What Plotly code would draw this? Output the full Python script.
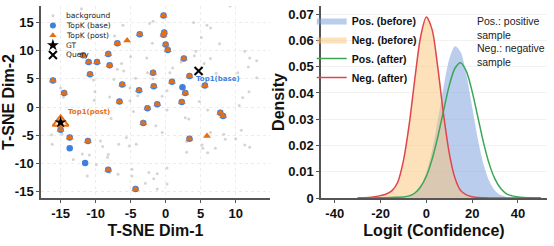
import plotly.graph_objects as go

# ---------------- Left panel: t-SNE scatter ----------------
bg_x = [-12.0, -6.1, -2.3, -1.8, 4.0, 5.9, 6.4, 9.2, -7.3, -1.9, 5.1, 7.7, 4.3, 4.1, 6.4,
        11.3, 12.0, 13.0, 11.8, 10.3, 13.0, -5.0, -2.7, -6.3, 1.0, 5.5, 7.2, 2.2,
        -6.9, -6.0, -2.6, -4.3, -1.8, 0.6, -10.3, -7.4, -5.1, 0.2, -15.0, -14.6, -10.1,
        -10.2, -8.0, -5.1, -4.0, -0.5, 4.8, 11.9, 11.0, 10.5, 6.0, -4.6, 0.2, 2.8, 3.3,
        -1.4, -0.5, -7.8,
        -16.3, -16.2, -14.8, -13.2, -11.9, -10.9, -11.2, -9.9, -9.3, -9.0, -8.2, -8.3,
        -6.7, -5.6, -5.2, -4.2, -6.8, -8.0, -4.8, -4.8, -2.9, -2.4, -1.2, -1.7, -1.2,
        0.2, 0.2, 3.0, 3.0, 5.2, 5.3, 6.0, 6.4, 7.1, 8.3, 8.5, 10.0, 10.8, 11.3, 12.0]
bg_y = [17.4, 14.5, 14.8, 15.2, 15.0, 14.5, 14.0, 17.9, 12.6, 11.3, 12.3, 11.2, 9.9, 9.1, 8.6,
        9.9, 8.7, 8.2, 7.1, 6.1, 5.2, 8.9, 8.7, 7.7, 6.9, 7.7, 6.0, 8.0,
        6.7, 6.4, 6.1, 5.1, 5.0, 6.1, 4.8, 4.9, 3.4, 2.9, 3.4, 1.8, 2.7,
        1.2, 1.8, 1.1, 2.0, 1.9, 1.0, 2.7, 1.7, 0.3, -0.5, -0.8, -0.5, -1.9, -2.1,
        -3.3, -4.5, -2.0,
        -4.9, -6.6, -4.8, -9.3, -8.3, -8.5, -12.2, -10.2, -6.0, -7.0, -8.4, -8.9,
        -6.6, -5.4, -6.9, -6.6, -11.9, -11.6, -11.0, -12.2, -13.5, -11.6, -11.8, -12.7, -14.5,
        -13.6, -10.8, -8.0, -6.1, -6.7, -7.3, -8.1, -4.5, -7.3, -4.8, -5.7, -5.6, -4.1, -6.7, -7.1]

topk_base_x = [-0.3, -0.2, -0.3, -3.7, -6.9, 0.0, 0.3, -8.2, -11.8, -11.0, -9.8, -8.0, 2.6,
               -10.8, -1.8, -16.1, 0.9, -6.2, -1.7, 5.6, -3.8, 2.8, -14.5, -6.6, -1.2, 2.3,
               -2.6, 7.8, 8.2, -3.2, -15.0, -13.7, -11.1, -8.2, -4.3, 3.4, 3.4,
               2.4, -13.7, -11.5]
topk_base_y = [16.2, 13.2, 12.8, 12.9, 11.3, 11.1, 10.1, 9.4, 9.2, 8.0, 8.0, 7.4, 8.6,
               5.8, 6.1, 4.7, 4.5, 4.0, 3.7, 3.8, 3.0, 2.5, 2.5, 1.0, 0.5, 0.9,
               -0.2, -1.0, -1.6, -2.8, -4.0, -5.4, -6.0, -11.1, -14.5, -5.6, 5.5,
               3.5, -7.3, -9.9]
topk_post_x = [-0.3, -0.2, -0.3, -3.7, -6.9, 0.0, 0.3, -8.2, -11.8, -11.0, -9.8, -8.0, 2.6,
               -10.8, -1.8, -16.1, 0.9, -6.2, -1.7, 5.6, -3.8, 2.8, -14.5, -6.6, -1.2, 2.3,
               -2.6, 7.8, 8.2, -3.2, -15.0, -13.7, -11.1, -8.2, -4.3, 3.4, 3.4,
               -5.5, 5.9, -15.0]
topk_post_y = [16.2, 13.2, 12.8, 12.9, 11.3, 11.1, 10.1, 9.4, 9.2, 8.0, 8.0, 7.4, 8.6,
               5.8, 6.1, 4.7, 4.5, 4.0, 3.7, 3.8, 3.0, 2.5, 2.5, 1.0, 0.5, 0.9,
               -0.2, -1.0, -1.6, -2.8, -4.0, -5.4, -6.0, -11.1, -14.5, -5.6, 5.5,
               11.8, -5.1, -2.7]
gt_x, gt_y = [-15.0], [-2.7]
query_x, query_y = [4.7], [6.4]
top1_base_x, top1_base_y = [3.4], [5.5]
top1_post_x, top1_post_y = [-15.0], [-2.7]
left_legend_labels = ["background", "TopK (base)", "TopK (post)", "GT", "Query"]

tsne_x_ticks = [-15, -10, -5, 0, 5, 10]
tsne_x_text = ["-15", "-10", "-5", "0", "5", "10"]
tsne_y_ticks = [-15, -10, -5, 0, 5, 10, 15]
tsne_y_text = ["-15", "-10", "-5", "0", "5", "10", "15"]

# ---------------- Right panel: logit densities ----------------
logit_x = [-30, -27.5, -25, -22.5, -20, -17.5, -15, -12.5, -10, -7.5, -5, -2.5, 0, 2.5, 5, 7.5,
           10, 12.5, 15, 17.5, 20, 22.5, 25, 27.5, 30, 32.5, 35, 37.5, 40, 42.5, 45, 47.5, 50]
pos_before = [0, 0, 0, 0, 0, 0, 0, 0.0001, 0.0002, 0.0008, 0.0019, 0.0047, 0.0098, 0.0182,
              0.0296, 0.0422, 0.0528, 0.0578, 0.0556, 0.0469, 0.0347, 0.0225, 0.0128, 0.0064,
              0.0028, 0.0011, 0.0004, 0.0001, 0, 0, 0, 0, 0]
neg_before = [0, 0.0001, 0.0002, 0.0005, 0.0009, 0.0015, 0.0028, 0.0060, 0.0142, 0.0279,
              0.0455, 0.0614, 0.0689, 0.0642, 0.0497, 0.0319, 0.0171, 0.0076, 0.0028, 0.0012,
              0.0005, 0.0002, 0.0001, 0, 0, 0, 0, 0, 0, 0, 0, 0, 0]
pos_after = [0, 0, 0, 0, 0.0001, 0.0001, 0.0002, 0.0003, 0.0004, 0.0008, 0.0019, 0.0043,
             0.0083, 0.0147, 0.0233, 0.0332, 0.0428, 0.0494, 0.0515, 0.0482, 0.0406, 0.0308,
             0.0210, 0.0129, 0.0072, 0.0036, 0.0016, 0.0008, 0.0004, 0.0002, 0.0001, 0, 0]
neg_after = [0, 0.0001, 0.0002, 0.0005, 0.0009, 0.0015, 0.0028, 0.0060, 0.0142, 0.0279,
             0.0455, 0.0614, 0.0689, 0.0642, 0.0497, 0.0319, 0.0171, 0.0076, 0.0028, 0.0012,
             0.0005, 0.0002, 0.0001, 0, 0, 0, 0, 0, 0, 0, 0, 0, 0]
logit_ticks = [-40, -20, 0, 20, 40]
logit_text = ["-40", "-20", "0", "20", "40"]
density_ticks = [0, 0.01, 0.02, 0.03, 0.04, 0.05, 0.06, 0.07]
density_text = ["0", "0.01", "0.02", "0.03", "0.04", "0.05", "0.06", "0.07"]
note_lines = ["Pos.: positive", "sample", "Neg.: negative", "sample"]

BLUE = "#3f7fe2"
ORANGE = "#e56f12"
GRAY = "rgba(185,185,185,0.6)"
AX = "#555555"
BOLD = dict(family="Liberation Sans", size=13, color="#111111", weight="bold")
TITLE = dict(family="Liberation Sans", size=16, color="#111111", weight="bold")

fig = go.Figure()

# left scatter
fig.add_trace(go.Scatter(x=bg_x, y=bg_y, mode="markers", xaxis="x", yaxis="y",
                         marker=dict(size=3, color=GRAY), showlegend=False))
fig.add_trace(go.Scatter(x=topk_base_x, y=topk_base_y, mode="markers", xaxis="x", yaxis="y",
                         marker=dict(size=6.5, color=BLUE, symbol="circle"), showlegend=False))
fig.add_trace(go.Scatter(x=topk_post_x, y=topk_post_y, mode="markers", xaxis="x", yaxis="y",
                         marker=dict(size=7, color=ORANGE, symbol="triangle-up"), showlegend=False))
fig.add_trace(go.Scatter(x=top1_post_x, y=top1_post_y, mode="markers", xaxis="x", yaxis="y",
                         marker=dict(size=14, color="rgba(255,240,225,1)", symbol="triangle-up",
                                     line=dict(color=ORANGE, width=2)), showlegend=False))
fig.add_trace(go.Scatter(x=gt_x, y=gt_y, mode="markers", xaxis="x", yaxis="y",
                         marker=dict(size=9, color="black", symbol="star"), showlegend=False))
fig.add_trace(go.Scatter(x=top1_base_x, y=top1_base_y, mode="markers", xaxis="x", yaxis="y",
                         marker=dict(size=12, color="rgba(0,0,0,0)", symbol="circle-open",
                                     line=dict(color=BLUE, width=1.8)), showlegend=False))
fig.add_trace(go.Scatter(x=query_x, y=query_y, mode="markers", xaxis="x", yaxis="y",
                         marker=dict(size=8, symbol="x-thin", line=dict(color="black", width=2)),
                         showlegend=False))

# manual compact legend for left panel (axis-fraction overlay)
leg_styles = [
    dict(size=3, color=GRAY, symbol="circle"),
    dict(size=6, color=BLUE, symbol="circle"),
    dict(size=6.5, color=ORANGE, symbol="triangle-up"),
    dict(size=9, color="black", symbol="star"),
    dict(size=8, symbol="x-thin", line=dict(color="black", width=2)),
]
for i, (lab, st) in enumerate(zip(left_legend_labels, leg_styles)):
    yy = 0.949 - i * 0.051
    fig.add_trace(go.Scatter(x=[0.052], y=[yy], mode="markers", xaxis="x3", yaxis="y3",
                             marker=st, showlegend=False, hoverinfo="skip"))
    fig.add_annotation(x=0.102, y=yy, xref="x3", yref="y3", text=lab, showarrow=False,
                       xanchor="left", yanchor="middle",
                       font=dict(family="DejaVu Sans", size=7.5, color="#222222"))

fig.add_annotation(x=top1_base_x[0], y=top1_base_y[0], xref="x", yref="y", text="<b>Top1(base)</b>",
                   showarrow=False, xanchor="left", yanchor="middle", xshift=5, yshift=-3,
                   font=dict(family="DejaVu Sans", size=7, color=BLUE))
fig.add_annotation(x=top1_post_x[0], y=top1_post_y[0], xref="x", yref="y", text="<b>Top1(post)</b>",
                   showarrow=False, xanchor="left", yanchor="middle", xshift=5, yshift=10,
                   font=dict(family="DejaVu Sans", size=7, color=ORANGE))

# right densities
fig.add_trace(go.Scatter(x=logit_x, y=pos_before, mode="lines", xaxis="x2", yaxis="y2",
                         fill="tozeroy", fillcolor="rgba(125,160,220,0.52)",
                         line=dict(width=0, shape="spline", smoothing=0.8, color="rgba(125,160,220,0.52)"),
                         name="Pos. (before)"))
fig.add_trace(go.Scatter(x=logit_x, y=neg_before, mode="lines", xaxis="x2", yaxis="y2",
                         fill="tozeroy", fillcolor="rgba(250,195,120,0.5)",
                         line=dict(width=0, shape="spline", smoothing=0.8, color="rgba(250,195,120,0.5)"),
                         name="Neg. (before)"))
fig.add_trace(go.Scatter(x=logit_x, y=pos_after, mode="lines", xaxis="x2", yaxis="y2",
                         line=dict(width=1.5, color="#3aa655", shape="spline", smoothing=0.8),
                         name="Pos. (after)"))
fig.add_trace(go.Scatter(x=logit_x, y=neg_after, mode="lines", xaxis="x2", yaxis="y2",
                         line=dict(width=1.5, color="#e0454a", shape="spline", smoothing=0.8),
                         name="Neg. (after)"))

fig.add_annotation(x=0.858, y=0.965, xref="paper", yref="paper", text="<br>".join(note_lines),
                   showarrow=False, xanchor="left", yanchor="top", align="left",
                   font=dict(family="Liberation Sans", size=10.5, color="#222222"))

ax_common = dict(showline=True, linecolor=AX, linewidth=1.5, ticks="outside", ticklen=3,
                 tickcolor=AX, tickwidth=1.2, zeroline=False, tickfont=BOLD, automargin=False)

L_DOM = [0.0, 0.4526]
R_DOM = [0.5534, 1.0]
fig.update_layout(
    width=554, height=246,
    margin=dict(l=41, r=7, t=6, b=48),
    paper_bgcolor="white", plot_bgcolor="rgba(0,0,0,0)",
    xaxis=dict(domain=L_DOM, range=[-17.8, 14.9], anchor="y", tickvals=tsne_x_ticks,
               ticktext=tsne_x_text, showgrid=True, gridcolor="#ececec", griddash="dot",
               title=dict(text="T-SNE Dim-1", font=TITLE, standoff=4), **ax_common),
    yaxis=dict(domain=[0, 1], range=[-16.1, 17.9], anchor="x", tickvals=tsne_y_ticks,
               ticktext=tsne_y_text, showgrid=True, gridcolor="#ececec", griddash="dot",
               title=dict(text="T-SNE Dim-2", font=TITLE, standoff=0), **ax_common),
    xaxis2=dict(domain=R_DOM, range=[-46, 52.7], anchor="y2", tickvals=logit_ticks,
                ticktext=logit_text, showgrid=False,
                title=dict(text="Logit (Confidence)", font=TITLE, standoff=4), **ax_common),
    yaxis2=dict(domain=[0, 1], range=[0, 0.0731], anchor="x2", tickvals=density_ticks,
                ticktext=density_text, showgrid=True, gridcolor="#f2f2f2",
                title=dict(text="Density", font=TITLE, standoff=0), **ax_common),
    xaxis3=dict(domain=L_DOM, range=[0, 1], anchor="y3", visible=False, fixedrange=True),
    yaxis3=dict(domain=[0, 1], range=[0, 1], anchor="x3", visible=False, fixedrange=True),
    legend=dict(x=0.535, y=1.0, xanchor="left", yanchor="top", bgcolor="rgba(0,0,0,0)",
                font=dict(family="Liberation Sans", size=10.5, color="#111111", weight="bold"),
                itemwidth=30, tracegroupgap=0),
    showlegend=True,
)

fig.write_html("out.html")
